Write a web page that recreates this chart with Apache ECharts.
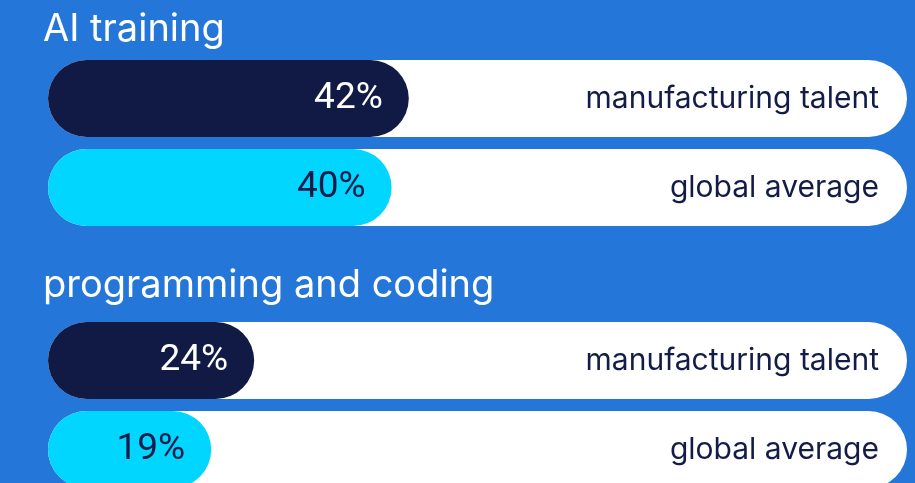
<!DOCTYPE html>
<html>
<head>
<meta charset="utf-8">
<script src="https://cdn.jsdelivr.net/npm/echarts@6/dist/echarts.min.js"></script>
<style>
  html, body { margin: 0; padding: 0; background: #2476d8; overflow: hidden; }
  /* the canvas runs a little past the bottom edge so the last row is cut off */
  #chart { width: 915px; height: 500px; }
</style>
</head>
<body>
<div id="chart"></div>
<script>
// Skill groups and the two populations compared in each
const groupTitles = ['AI training', 'programming and coding'];
const rowLabels = ['manufacturing talent', 'global average'];
const aiTrainingValues = [42, 40];
const programmingValues = [24, 19];

const BG = '#2476d8';
const NAVY = '#111a44';
const CYAN = '#00d6ff';
const INK = '#131c48';
const TEXT_FONT = 'Inter, "Noto Sans", sans-serif';
const NUM_FONT = 'Roboto, "Noto Sans", sans-serif';

const groupValues = [aiTrainingValues, programmingValues];
const gridTops = [54, 316];
const titleTops = [10, 266];
const ROW_H = 89;
const BAR_H = 77;

const grids = [], xAxes = [], yAxes = [], series = [], titles = [];

groupValues.forEach((vals, g) => {
  grids.push({
    left: 48, right: 8,
    top: gridTops[g],
    height: ROW_H * 2,
    containLabel: false
  });
  xAxes.push({ gridIndex: g, type: 'value', min: 0, max: 100, show: false });
  yAxes.push({
    gridIndex: g, type: 'category', data: rowLabels, inverse: true,
    position: 'right',
    axisLine: { show: false }, axisTick: { show: false }, splitLine: { show: false },
    axisLabel: {
      inside: true, margin: 28, color: INK,
      fontFamily: TEXT_FONT, fontSize: 30
    },
    z: 10
  });
  series.push({
    type: 'bar', xAxisIndex: g, yAxisIndex: g,
    barWidth: BAR_H,
    showBackground: true,
    backgroundStyle: { color: '#ffffff', borderRadius: BAR_H / 2 },
    data: vals.map((v, i) => ({
      value: v,
      itemStyle: { color: i === 0 ? NAVY : CYAN, borderRadius: BAR_H / 2 },
      label: { color: i === 0 ? '#ffffff' : INK }
    })),
    label: {
      show: true, position: 'insideRight', distance: 26,
      formatter: '{c}%', fontFamily: NUM_FONT, fontSize: 37
    },
    silent: true,
    animation: false
  });
  titles.push({
    text: groupTitles[g], left: 43, top: titleTops[g], padding: 0,
    textStyle: { color: '#ffffff', fontFamily: TEXT_FONT, fontSize: 38, fontWeight: 'normal', lineHeight: 40 }
  });
});

const chart = echarts.init(document.getElementById('chart'), null, { renderer: 'canvas' });
chart.setOption({
  backgroundColor: BG,
  animation: false,
  title: titles,
  grid: grids,
  xAxis: xAxes,
  yAxis: yAxes,
  series: series
});
</script>
</body>
</html>
